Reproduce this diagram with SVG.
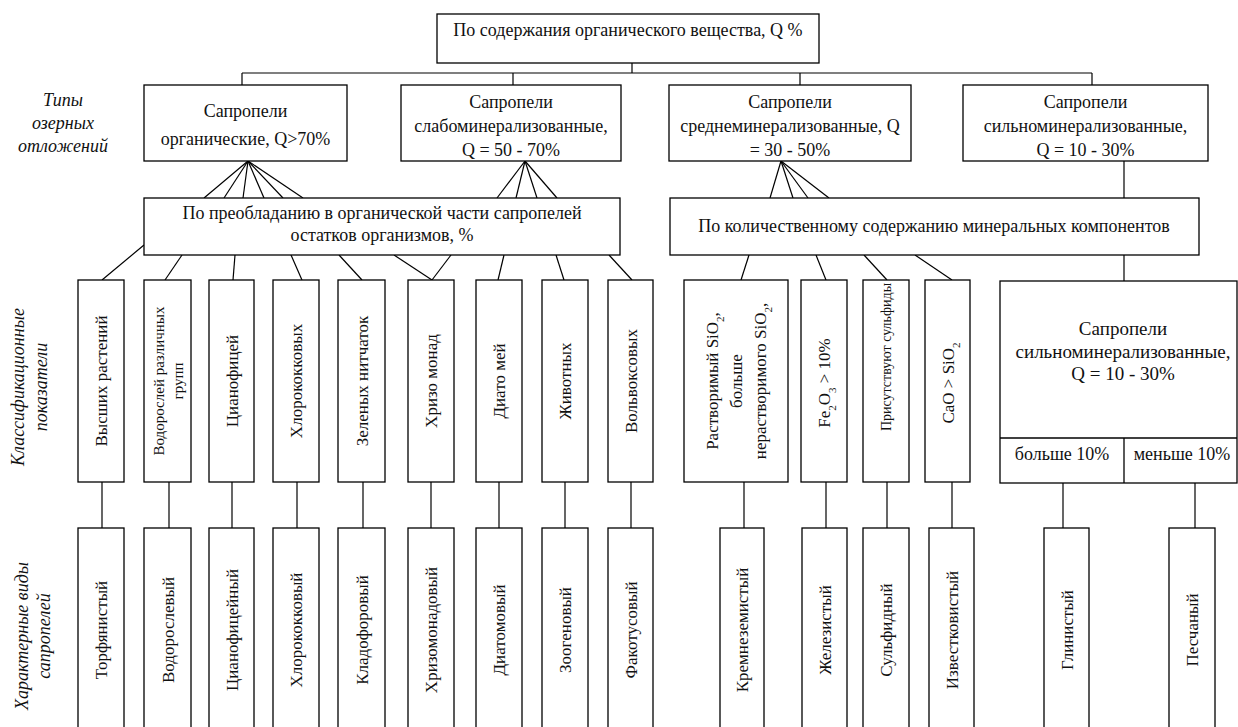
<svg xmlns="http://www.w3.org/2000/svg" width="1238" height="727" viewBox="0 0 1238 727">
<defs>
<style>
.b{fill:#fff;stroke:#000;stroke-width:1.3}
.t{font-family:"Liberation Serif","Times New Roman",serif;font-size:18px;fill:#111;text-anchor:middle}
.v{font-family:"Liberation Serif","Times New Roman",serif;font-size:17px;fill:#111;text-anchor:middle}
.i{font-family:"Liberation Serif","Times New Roman",serif;font-size:18px;font-style:italic;fill:#111;text-anchor:middle}
.sub{font-size:11px}
#connectors line{stroke:#000;stroke-width:1.2}
</style>
</defs>
<rect width="1238" height="727" fill="#fff"/>

<g id="connectors">
<line x1="632" y1="63" x2="632" y2="73"/>
<line x1="242" y1="73" x2="1092" y2="73"/>
<line x1="242" y1="73" x2="242" y2="85"/>
<line x1="513" y1="73" x2="513" y2="85"/>
<line x1="800" y1="73" x2="800" y2="85"/>
<line x1="1092" y1="73" x2="1092" y2="85"/>
<line x1="248" y1="161" x2="204" y2="198"/>
<line x1="248" y1="161" x2="224" y2="198"/>
<line x1="248" y1="161" x2="243" y2="198"/>
<line x1="248" y1="161" x2="264" y2="198"/>
<line x1="248" y1="161" x2="283" y2="198"/>
<line x1="248" y1="161" x2="303" y2="198"/>
<line x1="525" y1="161" x2="497" y2="198"/>
<line x1="525" y1="161" x2="516" y2="198"/>
<line x1="525" y1="161" x2="537" y2="198"/>
<line x1="525" y1="161" x2="557" y2="198"/>
<line x1="781" y1="161" x2="770" y2="198"/>
<line x1="781" y1="161" x2="793" y2="198"/>
<line x1="781" y1="161" x2="808" y2="198"/>
<line x1="781" y1="161" x2="829" y2="198"/>
<line x1="1124" y1="161" x2="1124" y2="198"/>
<line x1="1124" y1="255" x2="1124" y2="281"/>
<line x1="144" y1="245" x2="102" y2="280"/>
<line x1="182" y1="255" x2="165" y2="280"/>
<line x1="235" y1="255" x2="233" y2="280"/>
<line x1="291" y1="255" x2="302" y2="280"/>
<line x1="339" y1="255" x2="362" y2="280"/>
<line x1="394" y1="255" x2="432" y2="280"/>
<line x1="451" y1="255" x2="432" y2="280"/>
<line x1="504" y1="255" x2="498" y2="280"/>
<line x1="556" y1="255" x2="564" y2="280"/>
<line x1="609" y1="255" x2="632" y2="280"/>
<line x1="749" y1="255" x2="741" y2="280"/>
<line x1="816" y1="255" x2="826" y2="280"/>
<line x1="864" y1="255" x2="887" y2="280"/>
<line x1="915" y1="255" x2="952" y2="280"/>
<line x1="102" y1="482" x2="102" y2="528"/>
<line x1="169" y1="482" x2="169" y2="528"/>
<line x1="232" y1="482" x2="232" y2="528"/>
<line x1="297" y1="482" x2="297" y2="528"/>
<line x1="363" y1="482" x2="363" y2="528"/>
<line x1="431" y1="482" x2="431" y2="528"/>
<line x1="499" y1="482" x2="499" y2="528"/>
<line x1="565" y1="482" x2="565" y2="528"/>
<line x1="631" y1="482" x2="631" y2="528"/>
<line x1="744" y1="482" x2="744" y2="528"/>
<line x1="826" y1="482" x2="826" y2="528"/>
<line x1="887" y1="482" x2="887" y2="528"/>
<line x1="952" y1="482" x2="952" y2="528"/>
<line x1="1063" y1="483" x2="1063" y2="528"/>
<line x1="1195" y1="483" x2="1195" y2="528"/>
</g>

<g id="labels">
<text class="i" x="63" y="106">Типы</text>
<text class="i" x="63" y="129">озерных</text>
<text class="i" x="63" y="152">отложений</text>
<text class="i" transform="translate(24 387) rotate(-90)">Классификационные</text>
<text class="i" transform="translate(47 387) rotate(-90)">показатели</text>
<text class="i" transform="translate(28 636) rotate(-90)">Характерные виды</text>
<text class="i" transform="translate(50 636) rotate(-90)">сапропелей</text>
</g>

<g id="root"><rect class="b" x="437" y="14" width="382" height="49"/><text class="t" x="628" y="36">По содержания органического вещества, Q %</text></g>

<g id="type1"><rect class="b" x="144" y="85" width="203" height="76"/><text class="t" x="245.5" y="117">Сапропели</text><text class="t" x="245.5" y="145">органические, Q&gt;70%</text></g>
<g id="type2"><rect class="b" x="401" y="85" width="220" height="76"/><text class="t" x="511" y="108">Сапропели</text><text class="t" x="511" y="132">слабоминерализованные,</text><text class="t" x="511" y="156">Q = 50 - 70%</text></g>
<g id="type3"><rect class="b" x="669" y="85" width="242" height="76"/><text class="t" x="790" y="108">Сапропели</text><text class="t" x="790" y="132">среднеминерализованные, Q</text><text class="t" x="790" y="156">= 30 - 50%</text></g>
<g id="type4"><rect class="b" x="963" y="85" width="245" height="76"/><text class="t" x="1085.5" y="108">Сапропели</text><text class="t" x="1085.5" y="132">сильноминерализованные,</text><text class="t" x="1085.5" y="156">Q = 10 - 30%</text></g>

<g id="bar-organic"><rect class="b" x="144" y="198" width="476" height="57"/><text class="t" x="382" y="219">По преобладанию в органической части сапропелей</text><text class="t" x="382" y="241">остатков организмов, %</text></g>
<g id="bar-mineral"><rect class="b" x="670" y="198" width="529" height="57"/><text class="t" x="934" y="232">По количественному содержанию минеральных компонентов</text></g>

<g id="k1"><rect class="b" x="78" y="280" width="46" height="202"/><text class="v" transform="translate(101 381) rotate(-90)" y="6">Высших растений</text></g>
<g id="k2"><rect class="b" x="144" y="280" width="47" height="202"/><text class="v" style="font-size:15px" transform="translate(167.5 381) rotate(-90)" y="-4">Водорослей различных</text><text class="v" style="font-size:15px" transform="translate(167.5 381) rotate(-90)" y="15">групп</text></g>
<g id="k3"><rect class="b" x="209" y="280" width="45" height="202"/><text class="v" transform="translate(231.5 381) rotate(-90)" y="6">Цианофицей</text></g>
<g id="k4"><rect class="b" x="273" y="280" width="46" height="202"/><text class="v" transform="translate(296 381) rotate(-90)" y="6">Хлорококковых</text></g>
<g id="k5"><rect class="b" x="338" y="280" width="47" height="202"/><text class="v" transform="translate(361.5 381) rotate(-90)" y="6">Зеленых нитчаток</text></g>
<g id="k6"><rect class="b" x="408" y="280" width="46" height="202"/><text class="v" transform="translate(431 381) rotate(-90)" y="6">Хризо монад</text></g>
<g id="k7"><rect class="b" x="476" y="280" width="46" height="202"/><text class="v" transform="translate(499 381) rotate(-90)" y="6">Диато мей</text></g>
<g id="k8"><rect class="b" x="542" y="280" width="46" height="202"/><text class="v" transform="translate(565 381) rotate(-90)" y="6">Животных</text></g>
<g id="k9"><rect class="b" x="608" y="280" width="45" height="202"/><text class="v" transform="translate(630.5 381) rotate(-90)" y="6">Вольвоксовых</text></g>
<g id="k10"><rect class="b" x="684" y="280" width="104" height="202"/><text class="v" transform="translate(736 381) rotate(-90)" y="-18">Растворимый SiO<tspan class="sub" baseline-shift="sub">2</tspan>,</text><text class="v" transform="translate(736 381) rotate(-90)" y="6">больше</text><text class="v" transform="translate(736 381) rotate(-90)" y="30">нерастворимого SiO<tspan class="sub" baseline-shift="sub">2</tspan>,</text></g>
<g id="k11"><rect class="b" x="801" y="280" width="46" height="202"/><text class="v" transform="translate(824 383) rotate(-90)" y="6">Fe<tspan class="sub" baseline-shift="sub">2</tspan>O<tspan class="sub" baseline-shift="sub">3</tspan> &gt; 10%</text></g>
<g id="k12"><rect class="b" x="863" y="280" width="46" height="202"/><text class="v" style="font-size:14px" transform="translate(886 357) rotate(-90)" y="5">Присутствуют сульфиды</text></g>
<g id="k13"><rect class="b" x="925" y="280" width="45" height="202"/><text class="v" transform="translate(947.5 383) rotate(-90)" y="6">CaO &gt; SiO<tspan class="sub" baseline-shift="sub">2</tspan></text></g>

<g id="strong-mineral"><rect class="b" x="1000" y="281" width="237" height="202"/><line x1="1000" y1="438" x2="1237" y2="438" stroke="#000" stroke-width="1.3"/><line x1="1124" y1="438" x2="1124" y2="483" stroke="#000" stroke-width="1.3"/><text class="t" style="font-size:19px" x="1123" y="335">Сапропели</text><text class="t" style="font-size:19px" x="1123" y="358">сильноминерализованные,</text><text class="t" style="font-size:19px" x="1123" y="380">Q = 10 - 30%</text><text class="t" x="1062" y="460">больше 10%</text><text class="t" x="1182" y="460">меньше 10%</text></g>

<g id="s1"><rect class="b" x="78" y="528" width="46" height="215"/><text class="v" transform="translate(101 630) rotate(-90)" y="6">Торфянистый</text></g>
<g id="s2"><rect class="b" x="144" y="528" width="47" height="215"/><text class="v" transform="translate(167.5 630) rotate(-90)" y="6">Водорослевый</text></g>
<g id="s3"><rect class="b" x="209" y="528" width="45" height="215"/><text class="v" transform="translate(231.5 630) rotate(-90)" y="6">Цианофицейный</text></g>
<g id="s4"><rect class="b" x="273" y="528" width="46" height="215"/><text class="v" transform="translate(296 630) rotate(-90)" y="6">Хлорококковый</text></g>
<g id="s5"><rect class="b" x="338" y="528" width="47" height="215"/><text class="v" transform="translate(361.5 630) rotate(-90)" y="6">Кладофоровый</text></g>
<g id="s6"><rect class="b" x="408" y="528" width="46" height="215"/><text class="v" transform="translate(431 630) rotate(-90)" y="6">Хризомонадовый</text></g>
<g id="s7"><rect class="b" x="476" y="528" width="46" height="215"/><text class="v" transform="translate(499 630) rotate(-90)" y="6">Диатомовый</text></g>
<g id="s8"><rect class="b" x="542" y="528" width="46" height="215"/><text class="v" transform="translate(565 630) rotate(-90)" y="6">Зоогеновый</text></g>
<g id="s9"><rect class="b" x="608" y="528" width="45" height="215"/><text class="v" transform="translate(630.5 630) rotate(-90)" y="6">Факотусовый</text></g>
<g id="s10"><rect class="b" x="720" y="528" width="44" height="215"/><text class="v" transform="translate(742 630) rotate(-90)" y="6">Кремнеземистый</text></g>
<g id="s11"><rect class="b" x="802" y="528" width="45" height="215"/><text class="v" transform="translate(824.5 630) rotate(-90)" y="6">Железистый</text></g>
<g id="s12"><rect class="b" x="863" y="528" width="46" height="215"/><text class="v" transform="translate(886 630) rotate(-90)" y="6">Сульфидный</text></g>
<g id="s13"><rect class="b" x="929" y="528" width="45" height="215"/><text class="v" transform="translate(951.5 630) rotate(-90)" y="6">Известковистый</text></g>
<g id="s14"><rect class="b" x="1044" y="528" width="45" height="215"/><text class="v" transform="translate(1066.5 630) rotate(-90)" y="6">Глинистый</text></g>
<g id="s15"><rect class="b" x="1169" y="528" width="46" height="215"/><text class="v" transform="translate(1192 630) rotate(-90)" y="6">Песчаный</text></g>
</svg>
